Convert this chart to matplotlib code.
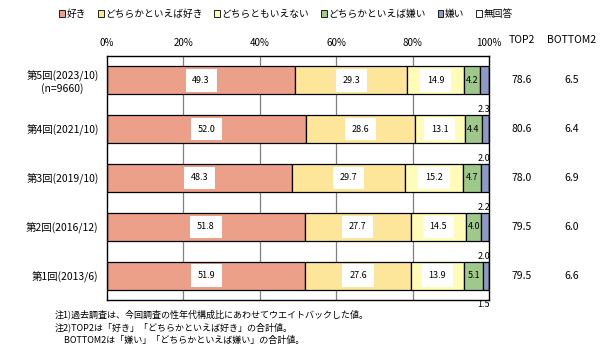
import matplotlib.pyplot as plt
from matplotlib.patches import Patch

plt.rcParams['font.family'] = ['Noto Sans CJK JP', 'DejaVu Sans']

# rounds, top to bottom
rounds = ["第5回(2023/10)\n(n=9660)", "第4回(2021/10)", "第3回(2019/10)",
          "第2回(2016/12)", "第1回(2013/6)"]
categories = ["好き", "どちらかといえば好き", "どちらともいえない",
              "どちらかといえば嫌い", "嫌い", "無回答"]
like = [49.3, 52.0, 48.3, 51.8, 51.9]
rather_like = [29.3, 28.6, 29.7, 27.7, 27.6]
neutral = [14.9, 13.1, 15.2, 14.5, 13.9]
rather_dislike = [4.2, 4.4, 4.7, 4.0, 5.1]
dislike = [2.3, 2.0, 2.2, 2.0, 1.5]
no_answer = [0, 0, 0, 0, 0]
top2 = [78.6, 80.6, 78.0, 79.5, 79.5]
bottom2 = [6.5, 6.4, 6.9, 6.0, 6.6]
xticks = [0, 20, 40, 60, 80, 100]

colors = ["#ECA08A", "#FDE699", "#FFFBB9", "#9FC98A", "#8D9AC6", "#FFFFFF"]
series = [like, rather_like, neutral, rather_dislike, dislike, no_answer]

fig = plt.figure(figsize=(6.09, 3.59), dpi=100)
ax = fig.add_axes([107 / 609, 59 / 359, 382 / 609, 244 / 359])

ypos = list(range(len(rounds)))
left = [0] * len(rounds)
for k, (vals, col) in enumerate(zip(series, colors)):
    ax.barh(ypos, vals, left=left, height=0.57, color=col,
            edgecolor="black", linewidth=0.9, zorder=2)
    for i, v in enumerate(vals):
        cx = left[i] + v / 2
        if k in (0, 1, 2):
            ax.text(cx, i, f"{v:.1f}", ha="center", va="center", fontsize=6.5,
                    zorder=3, bbox=dict(boxstyle="square,pad=0.75", fc="white", ec="none"))
        elif k == 3:
            ax.text(cx, i, f"{v:.1f}", ha="center", va="center", fontsize=6.5, zorder=3)
        elif k == 4:
            ax.text(100.3, i + 0.6, f"{v:.1f}", ha="right", va="center",
                    fontsize=6.5, zorder=3)
    left = [a + b for a, b in zip(left, vals)]

ax.set_xlim(0, 100)
ax.set_ylim(len(rounds) - 0.5, -0.5)
ax.set_xticks(xticks)
ax.set_xticklabels([f"{t}%" for t in xticks], fontsize=7)
ax.xaxis.tick_top()
ax.tick_params(axis="x", length=0, pad=6)
ax.set_yticks(ypos)
ax.set_yticklabels(rounds, fontsize=7.5, multialignment="center")
ax.tick_params(axis="y", length=0, pad=6)
for t in xticks[1:-1]:
    ax.axvline(t, color="#808080", linewidth=0.9, zorder=1)
for s in ax.spines.values():
    s.set_linewidth(1.0)

# TOP2 / BOTTOM2 columns
fig.text(522 / 609, 1 - 40 / 359, "TOP2", ha="center", va="center", fontsize=7.5)
fig.text(572 / 609, 1 - 40 / 359, "BOTTOM2", ha="center", va="center", fontsize=7.5)
for i in ypos:
    _, yd = ax.transData.transform((0, i))
    yf = yd / fig.bbox.height
    fig.text(522 / 609, yf, f"{top2[i]:.1f}", ha="center", va="center", fontsize=7.5)
    fig.text(572 / 609, yf, f"{bottom2[i]:.1f}", ha="center", va="center", fontsize=7.5)

handles = [Patch(facecolor=c, edgecolor="black", linewidth=0.6) for c in colors]
fig.legend(handles, categories, loc="center", bbox_to_anchor=(286 / 609, 1 - 14 / 359),
           ncol=6, frameon=False, fontsize=7, handlelength=0.6, handleheight=0.6,
           handletextpad=0.15, columnspacing=1.2)

notes = ["注1)過去調査は、今回調査の性年代構成比にあわせてウエイトバックした値。",
         "注2)TOP2は「好き」「どちらかといえば好き」の合計値。",
         "　BOTTOM2は「嫌い」「どちらかといえば嫌い」の合計値。"]
for j, n in enumerate(notes):
    fig.text(55 / 609, 1 - (314 + 13 * j) / 359, n, ha="left", va="center", fontsize=6.5)

fig.savefig("out.png", dpi=100)
